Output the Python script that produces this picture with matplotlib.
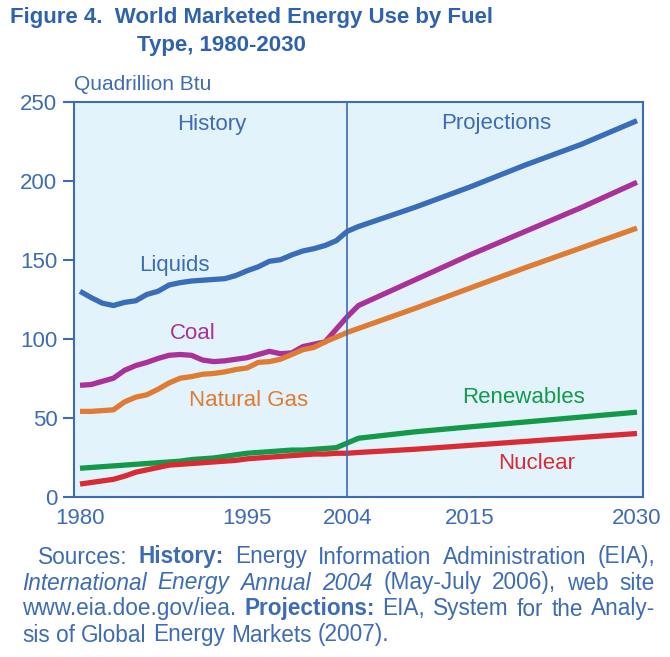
import matplotlib
matplotlib.use("Agg")
import matplotlib.pyplot as plt
from matplotlib import font_manager

# ---- data (quadrillion Btu) ----
hist_years = list(range(1980, 2005))
liquids_hist = [130, 126, 122.5, 121, 123, 124, 128, 130, 134, 135.5, 136.5, 137, 137.5,
                138, 140, 143, 145.5, 149, 150, 153, 155.5, 157, 159, 162, 168]
coal_hist = [70.5, 71, 73, 75, 80, 83, 85, 87.5, 89.5, 90, 89.5, 86.5, 85.5,
             86, 87, 88, 90, 92, 90.5, 91, 95, 96.5, 98, 106, 114]
gas_hist = [54, 54, 54.5, 55, 60, 63, 64.5, 68, 72, 75, 76, 77.5, 78,
            79, 80.5, 81.5, 85, 85.5, 87, 90, 93, 94.5, 98, 101, 104]
renew_hist = [18, 18.5, 19, 19.5, 20, 20.5, 21, 21.5, 22, 22.5, 23.5, 24, 24.5,
              25.5, 26.5, 27.5, 28, 28.5, 29, 29.5, 29.5, 30, 30.5, 31, 34]
nuclear_hist = [8, 9, 10, 11, 13, 15.5, 17, 18.5, 20, 20.5, 21, 21.5, 22,
                22.5, 23, 24, 24.5, 25, 25.5, 26, 26.5, 27, 27, 27.5, 27.5]

proj_years = [2004, 2005, 2010, 2015, 2020, 2025, 2030]
liquids_proj = [168, 171, 183, 196, 210, 223, 238]
coal_proj = [114, 121, 137, 153, 168, 183, 199]
gas_proj = [104, 106.5, 119, 132, 145, 157.5, 170]
renew_proj = [34, 37, 41, 44.2, 47.3, 50.4, 53.5]
nuclear_proj = [27.5, 28, 30, 32.5, 35, 37.5, 40]

fuel_names = ["Liquids", "Coal", "Natural Gas", "Renewables", "Nuclear"]
fuel_colors = ["#3A6DB7", "#AA3199", "#E07B33", "#129A48", "#D92B33"]
label_pos = [(1988.5, 146.6), (1990.1, 103.6), (1995.1, 61.2), (2019.8, 63.1), (2021.0, 21.3)]

x_ticks = [1980, 1995, 2004, 2015, 2030]
y_ticks = [0, 50, 100, 150, 200, 250]

BLUE = "#3D6CB4"
BG = "#E3F3FC"
W, H = 670, 657

names = {f.name for f in font_manager.fontManager.ttflist}
FONT = "Liberation Sans" if "Liberation Sans" in names else "DejaVu Sans"
TITLE_FONT = "Liberation Sans Narrow" if "Liberation Sans Narrow" in names else FONT
plt.rcParams['font.family'] = [FONT, 'DejaVu Sans']

fig = plt.figure(figsize=(W / 100, H / 100), dpi=100)
ax = fig.add_axes([74 / W, 1 - 496.7 / H, (643 - 74) / W, (496.7 - 101.7) / H])
ax.set_facecolor(BG)

series = [(liquids_hist, liquids_proj), (coal_hist, coal_proj), (gas_hist, gas_proj),
          (renew_hist, renew_proj), (nuclear_hist, nuclear_proj)]
for (h, p), name, col, (lx, ly) in zip(series, fuel_names, fuel_colors, label_pos):
    ax.plot(hist_years + proj_years[1:], h + p[1:], color=col, lw=3.8,
            solid_joinstyle='round', solid_capstyle='butt')
    ax.text(lx, ly, name, color=col, fontsize=16, ha='center', va='center')

ax.axvline(2004, color=BLUE, lw=1.2)
ax.text(1991.85, 235.3, "History", color=BLUE, fontsize=16, ha='center', va='center')
ax.text(2017.4, 236, "Projections", color=BLUE, fontsize=16, ha='center', va='center')

ax.set_xlim(1979.46, 2030.54)
ax.set_ylim(0, 250)
ax.set_xticks(x_ticks)
ax.set_yticks(y_ticks)
for s in ax.spines.values():
    s.set_color(BLUE)
    s.set_linewidth(1.5)
ax.tick_params(axis='y', direction='out', length=8, width=1.5, color=BLUE,
               labelcolor=BLUE, labelsize=16, pad=4)
ax.tick_params(axis='x', length=0, labelcolor=BLUE, labelsize=16, pad=8)

fig.text(74 / W, 1 - 85 / H, "Quadrillion Btu", color=BLUE, fontsize=15, va='center', ha='left')

# title
fig.text(10 / W, 1 - 18 / H, "Figure 4.  World Marketed Energy Use by Fuel", color="#2F62AE",
         fontsize=16, fontweight='bold', family=[TITLE_FONT, 'DejaVu Sans'], va='center')
fig.text(137 / W, 1 - 46 / H, "Type, 1980-2030", color="#2F62AE",
         fontsize=16, fontweight='bold', family=[TITLE_FONT, 'DejaVu Sans'], va='center')

# footnote, justified word by word
note_lines = [
    (38, 557, True, [("Sources:", "n"), ("History:", "b"), ("Energy", "n"), ("Information", "n"),
                     ("Administration", "n"), ("(EIA),", "n")]),
    (22, 583, True, [("International", "i"), ("Energy", "i"), ("Annual", "i"), ("2004", "i"),
                     ("(May-July", "n"), ("2006),", "n"), ("web", "n"), ("site", "n")]),
    (22, 609, True, [("www.eia.doe.gov/iea.", "n"), ("Projections:", "b"), ("EIA,", "n"),
                     ("System", "n"), ("for", "n"), ("the", "n"), ("Analy-", "n")]),
    (22, 635, False, [("sis", "n"), ("of", "n"), ("Global", "n"), ("Energy", "n"),
                      ("Markets", "n"), ("(2007).", "n")]),
]
NOTE_SIZE = 16.3
right_edge = 655
fig.canvas.draw()
renderer = fig.canvas.get_renderer()
space = fig.text(0, 0, "a a", fontsize=NOTE_SIZE)
aa = fig.text(0, 0, "aa", fontsize=NOTE_SIZE)
sp_w = space.get_window_extent(renderer).width - aa.get_window_extent(renderer).width
space.remove()
aa.remove()
for x0, yc, justify, words in note_lines:
    arts = []
    for word, st in words:
        t = fig.text(0, 1 - yc / H, word, color=BLUE, fontsize=NOTE_SIZE, va='center', ha='left',
                     fontweight='bold' if st == "b" else 'normal',
                     fontstyle='italic' if st == "i" else 'normal')
        arts.append(t)
    widths = [a.get_window_extent(renderer).width for a in arts]
    if justify:
        gap = (right_edge - x0 - sum(widths)) / (len(arts) - 1)
    else:
        gap = sp_w
    x = x0
    for a, w in zip(arts, widths):
        a.set_x(x / W)
        x += w + gap

fig.savefig("out.png", dpi=100, facecolor="white")
